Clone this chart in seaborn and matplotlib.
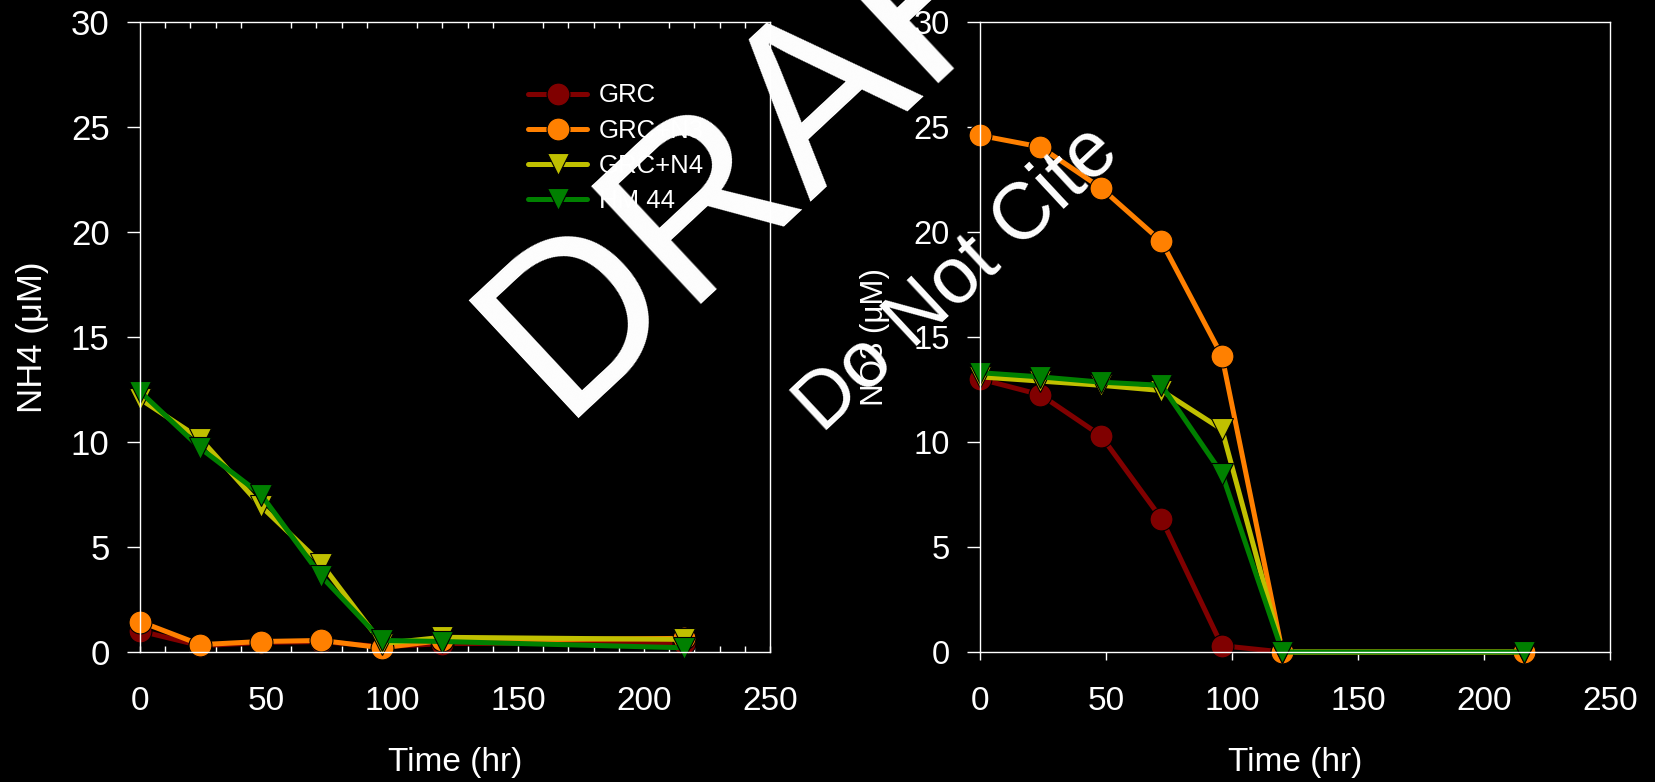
import numpy as np
import pandas as pd
import matplotlib
matplotlib.use("Agg")
import matplotlib.pyplot as plt
from matplotlib.ticker import MultipleLocator
import seaborn as sns

# ---------------- data ----------------
time_hr = [0, 24, 48, 72, 96, 120, 216]
series_names = ["GRC", "GRC+N3", "GRC+N4", "HM 44"]

nh4_grc = [1.0, 0.3, 0.45, 0.5, 0.25, 0.4, 0.45]
nh4_n3 = [1.45, 0.35, 0.5, 0.55, 0.2, 0.55, 0.65]
nh4_n4 = [12.05, 10.15, 6.95, 4.2, 0.4, 0.7, 0.6]
nh4_hm44 = [12.4, 9.7, 7.5, 3.6, 0.55, 0.5, 0.2]

no3_grc = [13.0, 12.25, 10.3, 6.35, 0.3, 0.0, 0.0]
no3_n3 = [24.6, 24.05, 22.1, 19.55, 14.1, 0.0, 0.0]
no3_n4 = [13.1, 12.9, 12.7, 12.45, 10.6, 0.0, 0.0]
no3_hm44 = [13.3, 13.1, 12.85, 12.7, 8.5, 0.0, 0.0]

x_ticks = [0, 50, 100, 150, 200, 250]
y_ticks = [0, 5, 10, 15, 20, 25, 30]

colors = ["#800000", "#FF8000", "#C0C000", "#008000"]
markers = ["o", "o", "v", "v"]

rows = []
for name, a, b in zip(series_names,
                      [nh4_grc, nh4_n3, nh4_n4, nh4_hm44],
                      [no3_grc, no3_n3, no3_n4, no3_hm44]):
    for t, v1, v2 in zip(time_hr, a, b):
        rows.append({"series": name, "time": t, "NH4": v1, "NO3": v2})
df = pd.DataFrame(rows)

# ---------------- style ----------------
sns.set_theme(style="dark", rc={
    "figure.facecolor": "black",
    "axes.facecolor": "black",
    "axes.edgecolor": "white",
    "axes.labelcolor": "white",
    "xtick.color": "white",
    "ytick.color": "white",
    "text.color": "white",
    "axes.grid": False,
    "axes.linewidth": 1.0,
})
plt.rcParams["font.family"] = ["Liberation Sans", "DejaVu Sans"]

W, H = 1656, 782
fig = plt.figure(figsize=(W / 100, H / 100), dpi=100, facecolor="black")
ax1 = fig.add_axes([140 / W, 1 - 652 / H, 630 / W, 630 / H])
ax2 = fig.add_axes([980 / W, 1 - 652 / H, 630 / W, 630 / H])

for ax, col in ((ax1, "NH4"), (ax2, "NO3")):
    for name, c, m in zip(series_names, colors, markers):
        sub = df[df["series"] == name]
        sns.lineplot(data=sub, x="time", y=col, ax=ax, color=c, marker=m,
                     markersize=16.5 if m == "o" else 16,
                     markeredgecolor="black", markeredgewidth=0.8,
                     linewidth=3.6, label=name, clip_on=False,
                     errorbar=None, legend=False)
    ax.set_xlim(0, 250)
    ax.set_ylim(0, 30)
    ax.set_xticks(x_ticks)
    ax.set_yticks(y_ticks)
    for sp in ax.spines.values():
        sp.set_visible(True)
        sp.set_color("white")
        sp.set_linewidth(1.0)

# left panel ticks
ax1.xaxis.set_minor_locator(MultipleLocator(10))
ax1.tick_params(axis="x", which="major", direction="in", length=4.5, width=1,
                bottom=True, top=False, labelsize=24, pad=24.5)
ax1.tick_params(axis="x", which="minor", direction="in", length=4.5, width=1,
                bottom=True, top=True)
ax1.tick_params(axis="y", which="major", direction="out", length=9.4, width=1,
                left=True, right=False, labelsize=25, pad=12.5)

# right panel ticks
ax2.tick_params(axis="x", which="major", direction="out", length=5.4, width=1,
                bottom=True, top=False, labelsize=24, pad=19)
ax2.tick_params(axis="y", which="major", direction="out", length=9.4, width=1,
                left=True, right=False, labelsize=23.5, pad=12.5)

ax1.set_xlabel("Time (hr)", fontsize=24, va="top")
ax2.set_xlabel("Time (hr)", fontsize=24, va="top")
ax1.xaxis.set_label_coords(0.5, (652 - 747) / 630)
ax2.xaxis.set_label_coords(0.5, (652 - 747) / 630)
ax1.set_ylabel("NH4 (\u03bcM)", fontsize=25)
ax2.set_ylabel("NO3 (\u03bcM)", fontsize=22.5)
ax1.yaxis.set_label_coords((49 - 140) / 630, 0.5)
ax2.yaxis.set_label_coords((890 - 980) / 630, 0.5)

handles, labels = ax1.get_legend_handles_labels()
leg = ax1.legend(handles, labels, loc="upper left",
                 bbox_to_anchor=(528 / W, 1 - 83.5 / H),
                 bbox_transform=fig.transFigure, frameon=False,
                 fontsize=18.5, handlelength=2.3, handletextpad=0.45,
                 labelspacing=0.44, borderpad=0, borderaxespad=0,
                 numpoints=1)
for t in leg.get_texts():
    t.set_color("white")

# watermark
fig.text(560 / W, 1 - 418 / H, "DRAFT", rotation=43, rotation_mode="anchor",
         ha="left", va="baseline", fontsize=168, color="white", zorder=20)
fig.text(822 / W, 1 - 434 / H, "Do Not Cite", rotation=43,
         rotation_mode="anchor", ha="left", va="baseline", fontsize=57,
         color="white", zorder=20)

fig.savefig("out.png", dpi=100, facecolor="black")
